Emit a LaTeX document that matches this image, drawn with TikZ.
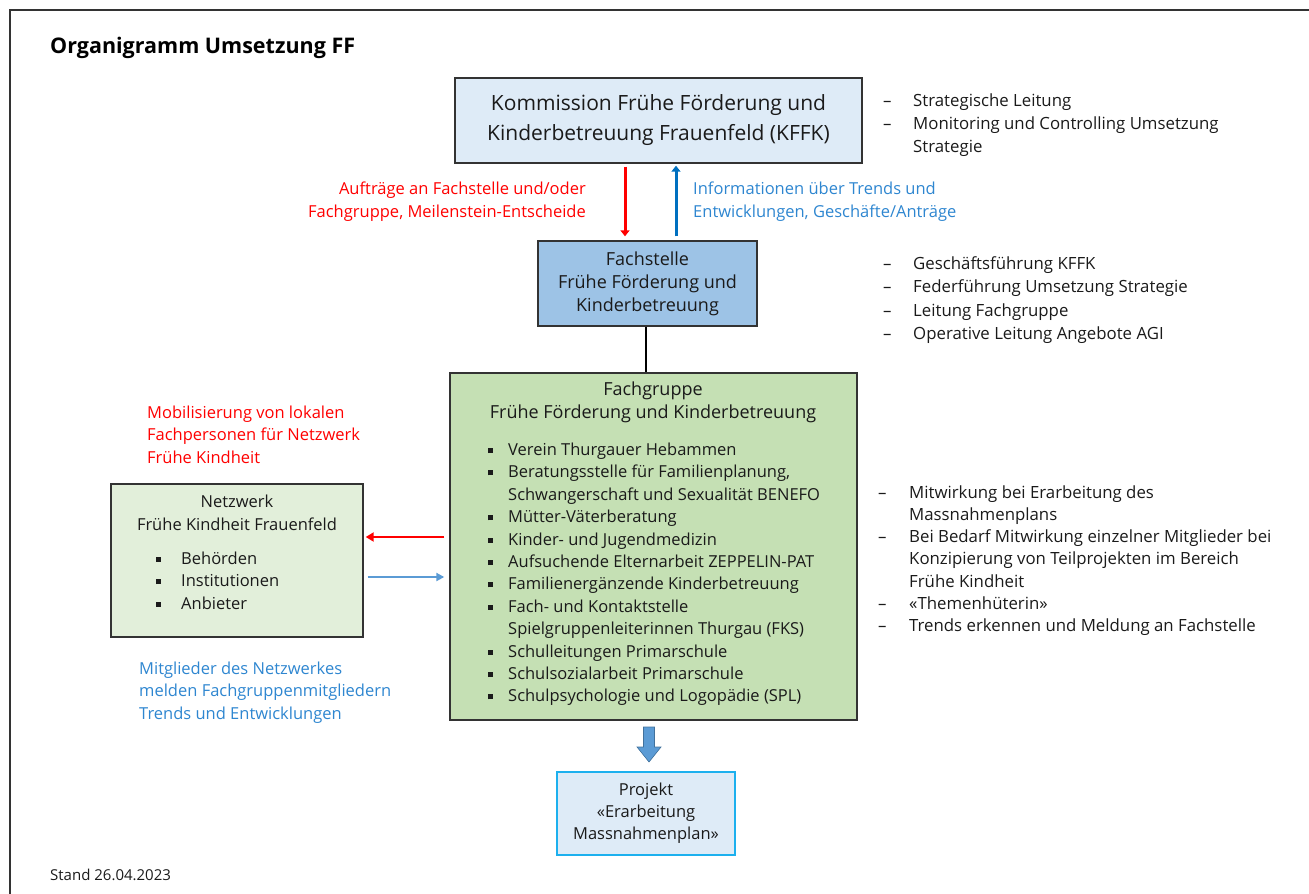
\documentclass[tikz,border=0pt]{standalone}
\usepackage{fontspec}
\setmainfont{Open Sans}
\usetikzlibrary{arrows.meta}
\definecolor{kffkfill}{HTML}{DEEBF7}
\definecolor{fsfill}{HTML}{9DC3E6}
\definecolor{fgfill}{HTML}{C5E0B4}
\definecolor{nwfill}{HTML}{E2EFDA}
\definecolor{pjedge}{HTML}{1CB0EE}
\definecolor{boxedge}{HTML}{333333}
\definecolor{redc}{HTML}{FF0000}
\definecolor{bluec}{HTML}{0070C0}
\definecolor{bluetext}{HTML}{2E86D0}
\definecolor{lightblue}{HTML}{5B9BD5}
\definecolor{blockedge}{HTML}{41719C}
\definecolor{txt}{HTML}{1A1A1A}
\newcommand{\dashitem}[1]{\makebox[30pt][l]{–}#1}
\newcommand{\dashcont}[1]{\hspace*{30pt}#1}
\newcommand{\dashitemb}[1]{\makebox[31pt][l]{–}#1}
\newcommand{\dashcontb}[1]{\hspace*{31pt}#1}
\newcommand{\sqb}{\raisebox{2.5pt}{\rule{5pt}{5pt}}}
\newcommand{\sqitem}[1]{\makebox[20pt][l]{\sqb}#1}
\newcommand{\sqcont}[1]{\hspace*{20pt}#1}
\newcommand{\sqitemn}[1]{\makebox[25pt][l]{\sqb}#1}
\begin{document}
\begin{tikzpicture}[x=1pt,y=-1pt,
  box/.style={draw=boxedge, line width=1.4pt, rectangle, inner sep=0pt},
  txtnode/.style={inner sep=0pt, text=txt, font=\fontsize{16.5}{22.4}\selectfont},
  redarr/.style={draw=redc, line width=3pt, -{Triangle[width=9pt,length=6pt]}},
  bluearr/.style={draw=bluec, line width=3pt, -{Triangle[width=9pt,length=6pt]}},
  redarrs/.style={draw=redc, line width=2.5pt, -{Triangle[width=9pt,length=8pt]}},
  bluearrs/.style={draw=lightblue, line width=2pt, -{Triangle[width=8pt,length=8pt]}}
]
\useasboundingbox (0,0) rectangle (1309,894);
% frame
\draw[boxedge, line width=1.2pt] (10,894) -- (10,10) -- (1309,10);

% title
\node[inner sep=0pt, anchor=west, font=\fontsize{21.5}{24}\selectfont\bfseries] (title) at (50,48) {Organigramm Umsetzung FF};
\node[inner sep=0pt, anchor=west, text=txt, font=\fontsize{15}{18}\selectfont] (stand) at (50,875) {Stand 26.04.2023};

% KFFK
\node[box, fill=kffkfill, minimum width=407pt, minimum height=85pt, align=center, text=txt,
  font=\fontsize{21}{30}\selectfont] (kffk) at (658.5,120.5)
  {Kommission Frühe Förderung und\\Kinderbetreuung Frauenfeld (KFFK)};

% Fachstelle
\node[box, fill=fsfill, minimum width=219pt, minimum height=85pt, align=center, text=txt,
  font=\fontsize{18}{23}\selectfont] (fs) at (647.5,283.5)
  {Fachstelle\\Frühe Förderung und\\Kinderbetreuung};

% Fachgruppe
\node[box, fill=fgfill, minimum width=407pt, minimum height=347pt] (fg) at (653.5,546.5) {};
\node[txtnode, align=center, font=\fontsize{18}{23}\selectfont] (fgtitle) at (653,402.5)
  {Fachgruppe\\Frühe Förderung und Kinderbetreuung};
\node[txtnode, align=left, anchor=west] (fglist) at (488,574.5)
  {\sqitem{Verein Thurgauer Hebammen}\\
   \sqitem{Beratungsstelle für Familienplanung,}\\
   \sqcont{Schwangerschaft und Sexualität BENEFO}\\
   \sqitem{Mütter-Väterberatung}\\
   \sqitem{Kinder- und Jugendmedizin}\\
   \sqitem{Aufsuchende Elternarbeit ZEPPELIN-PAT}\\
   \sqitem{Familienergänzende Kinderbetreuung}\\
   \sqitem{Fach- und Kontaktstelle}\\
   \sqcont{Spielgruppenleiterinnen Thurgau (FKS)}\\
   \sqitem{Schulleitungen Primarschule}\\
   \sqitem{Schulsozialarbeit Primarschule}\\
   \sqitem{Schulpsychologie und Logopädie (SPL)}};

% Netzwerk
\node[box, fill=nwfill, minimum width=252pt, minimum height=153pt] (nw) at (237,560.5) {};
\node[txtnode, align=center] (nwtitle) at (237,513)
  {Netzwerk\\Frühe Kindheit Frauenfeld};
\node[txtnode, align=left, anchor=west] (nwlist) at (156,580.5)
  {\sqitemn{Behörden}\\ \sqitemn{Institutionen}\\ \sqitemn{Anbieter}};

% Projekt
\node[draw=pjedge, line width=2.4pt, fill=kffkfill, minimum width=178pt, minimum height=83pt,
  inner sep=0pt, align=center, text=txt, font=\fontsize{16.5}{22}\selectfont] (pj) at (646,813.5)
  {Projekt\\«Erarbeitung\\Massnahmenplan»};

% right lists
\node[txtnode, align=left, anchor=west, font=\fontsize{16.8}{23}\selectfont] (l1) at (883,125)
  {\dashitem{Strategische Leitung}\\
   \dashitem{Monitoring und Controlling Umsetzung}\\
   \dashcont{Strategie}};
\node[txtnode, align=left, anchor=west, font=\fontsize{16.8}{23.3}\selectfont] (l2) at (883,300)
  {\dashitem{Geschäftsführung KFFK}\\
   \dashitem{Federführung Umsetzung Strategie}\\
   \dashitem{Leitung Fachgruppe}\\
   \dashitem{Operative Leitung Angebote AGI}};
\node[txtnode, align=left, anchor=west, font=\fontsize{16.8}{22.2}\selectfont] (l3) at (878,560.5)
  {\dashitemb{Mitwirkung bei Erarbeitung des}\\
   \dashcontb{Massnahmenplans}\\
   \dashitemb{Bei Bedarf Mitwirkung einzelner Mitglieder bei}\\
   \dashcontb{Konzipierung von Teilprojekten im Bereich}\\
   \dashcontb{Frühe Kindheit}\\
   \dashitemb{«Themenhüterin»}\\
   \dashitemb{Trends erkennen und Meldung an Fachstelle}};

% arrow labels
\node[txtnode, text=redc, align=right, anchor=east, font=\fontsize{16.5}{23}\selectfont] (lblred) at (586,201.5)
  {Aufträge an Fachstelle und/oder\\Fachgruppe, Meilenstein-Entscheide};
\node[txtnode, text=bluetext, align=left, anchor=west, font=\fontsize{16.5}{23}\selectfont] (lblblue) at (693,201.5)
  {Informationen über Trends und\\Entwicklungen, Geschäfte/Anträge};
\node[txtnode, text=redc, align=left, anchor=west] (lblred2) at (147,434.5)
  {Mobilisierung von lokalen\\Fachpersonen für Netzwerk\\Frühe Kindheit};
\node[txtnode, text=bluetext, align=left, anchor=west] (lblblue2) at (139,692.5)
  {Mitglieder des Netzwerkes\\melden Fachgruppenmitgliedern\\Trends und Entwicklungen};

% connectors
\coordinate (rx) at (625,0);
\coordinate (bx) at (676,0);
\coordinate (ry) at (0,537);
\coordinate (by) at (0,577);
\draw[redarr, shorten <=3pt, shorten >=4pt] (kffk.south -| rx) -- (fs.north -| rx);
\draw[bluearr, shorten <=4pt, shorten >=2pt] (fs.north -| bx) -- (kffk.south -| bx);
\draw[line width=2pt, black] (fs.south -| 646,0) -- (fg.north -| 646,0);
\draw[redarrs, shorten <=5pt, shorten >=2pt] (fg.west |- ry) -- (nw.east |- ry);
\draw[bluearrs, shorten <=4pt, shorten >=5pt] (nw.east |- by) -- (fg.west |- by);

% block arrow
\draw[fill=lightblue, draw=blockedge, line width=0.6pt]
  (643.5,727) -- (654.5,727) -- (654.5,747) -- (661,747) -- (649,762) -- (637,747) -- (643.5,747) -- cycle;
\end{tikzpicture}
\end{document}
